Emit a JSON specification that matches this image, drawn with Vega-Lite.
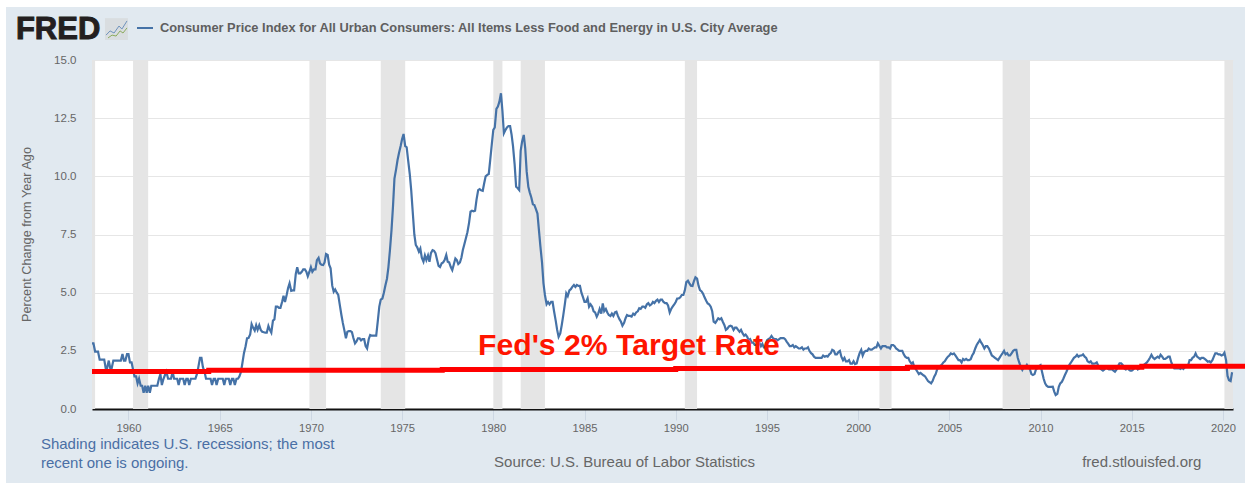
{"$schema":"https://vega.github.io/schema/vega-lite/v6.json","width":1141,"height":349,"autosize":{"type":"none"},"padding":{"left":92,"right":12,"top":60,"bottom":74},"background":"#e1e9f0","view":{"fill":"#ffffff","stroke":null},"config":{"font":"Liberation Sans"},
"encoding":{"x":{"field":"t","type":"quantitative","title":null,"scale":{"domain":[1958,2020.55],"nice":false,"zero":false},"axis":{"values":[1960,1965,1970,1975,1980,1985,1990,1995,2000,2005,2010,2015,2020],"format":"d","grid":false,"domainColor":"#111111","domainWidth":2,"tickColor":"#cdd7e3","tickSize":11,"tickWidth":1,"labelColor":"#666666","labelFont":"Liberation Sans","labelFontSize":11.2,"labelPadding":2,"labelFlush":false}},"y":{"field":"v","type":"quantitative","title":"Percent Change from Year Ago","scale":{"domain":[0,15],"nice":false},"axis":{"values":[0,2.5,5,7.5,10,12.5,15],"format":".1f","domain":false,"ticks":false,"gridColor":"#e6e6e6","gridWidth":1,"labelColor":"#666666","labelFont":"Liberation Sans","labelFontSize":11.5,"labelPadding":16,"titleColor":"#666666","titleFont":"Liberation Sans","titleFontSize":12.7,"titleFontWeight":"normal","titleX":-59,"titleY":174}}},
"layer":[
{"data":{"values":[{"t":1958,"t2":1958.17,"v":0,"v2":15},{"t":1960.25,"t2":1961.08,"v":0,"v2":15},{"t":1969.92,"t2":1970.83,"v":0,"v2":15},{"t":1973.83,"t2":1975.17,"v":0,"v2":15},{"t":1980,"t2":1980.5,"v":0,"v2":15},{"t":1981.5,"t2":1982.83,"v":0,"v2":15},{"t":1990.5,"t2":1991.17,"v":0,"v2":15},{"t":2001.17,"t2":2001.83,"v":0,"v2":15},{"t":2007.92,"t2":2009.42,"v":0,"v2":15},{"t":2020.08,"t2":2020.55,"v":0,"v2":15}]},"mark":{"type":"rect","color":"#e5e5e5"},"encoding":{"x2":{"field":"t2"},"y2":{"field":"v2"}}},
{"data":{"values":[
{"t":1958.00,"v":2.82},{"t":1958.08,"v":2.82},{"t":1958.17,"v":2.47},{"t":1958.25,"v":2.47},{"t":1958.33,"v":2.47},{"t":1958.42,"v":2.12},{"t":1958.50,"v":2.12},{"t":1958.58,"v":2.12},{"t":1958.67,"v":2.12},{"t":1958.75,"v":1.76},{"t":1958.83,"v":1.76},{"t":1958.92,"v":2.08},
{"t":1959.00,"v":1.76},{"t":1959.08,"v":1.76},{"t":1959.17,"v":2.08},{"t":1959.25,"v":2.08},{"t":1959.33,"v":2.08},{"t":1959.42,"v":2.08},{"t":1959.50,"v":2.08},{"t":1959.58,"v":2.08},{"t":1959.67,"v":2.36},{"t":1959.75,"v":2.08},{"t":1959.83,"v":2.08},{"t":1959.92,"v":2.36},
{"t":1960.00,"v":2.36},{"t":1960.08,"v":2.0},{"t":1960.17,"v":2.0},{"t":1960.25,"v":1.7},{"t":1960.33,"v":1.4},{"t":1960.42,"v":1.4},{"t":1960.50,"v":1.1},{"t":1960.58,"v":1.3},{"t":1960.67,"v":1.0},{"t":1960.75,"v":1.0},{"t":1960.83,"v":0.7},{"t":1960.92,"v":1.0},
{"t":1961.00,"v":0.7},{"t":1961.08,"v":1.0},{"t":1961.17,"v":0.7},{"t":1961.25,"v":1.0},{"t":1961.33,"v":1.0},{"t":1961.42,"v":1.0},{"t":1961.50,"v":1.0},{"t":1961.58,"v":1.0},{"t":1961.67,"v":1.3},{"t":1961.75,"v":1.5},{"t":1961.83,"v":1.03},{"t":1961.92,"v":1.3},
{"t":1962.00,"v":1.46},{"t":1962.08,"v":1.6},{"t":1962.17,"v":1.3},{"t":1962.25,"v":1.3},{"t":1962.33,"v":1.3},{"t":1962.42,"v":1.6},{"t":1962.50,"v":1.3},{"t":1962.58,"v":1.3},{"t":1962.67,"v":1.3},{"t":1962.75,"v":1.03},{"t":1962.83,"v":1.3},{"t":1962.92,"v":1.3},
{"t":1963.00,"v":1.3},{"t":1963.08,"v":1.03},{"t":1963.17,"v":1.3},{"t":1963.25,"v":1.3},{"t":1963.33,"v":1.03},{"t":1963.42,"v":1.3},{"t":1963.50,"v":1.3},{"t":1963.58,"v":1.3},{"t":1963.67,"v":1.3},{"t":1963.75,"v":1.5},{"t":1963.83,"v":1.8},{"t":1963.92,"v":2.2},
{"t":1964.00,"v":2.2},{"t":1964.08,"v":1.8},{"t":1964.17,"v":1.6},{"t":1964.25,"v":1.3},{"t":1964.33,"v":1.3},{"t":1964.42,"v":1.3},{"t":1964.50,"v":1.3},{"t":1964.58,"v":1.03},{"t":1964.67,"v":1.3},{"t":1964.75,"v":1.3},{"t":1964.83,"v":1.03},{"t":1964.92,"v":1.3},
{"t":1965.00,"v":1.3},{"t":1965.08,"v":1.3},{"t":1965.17,"v":1.3},{"t":1965.25,"v":1.03},{"t":1965.33,"v":1.3},{"t":1965.42,"v":1.3},{"t":1965.50,"v":1.3},{"t":1965.58,"v":1.03},{"t":1965.67,"v":1.3},{"t":1965.75,"v":1.3},{"t":1965.83,"v":1.03},{"t":1965.92,"v":1.3},
{"t":1966.00,"v":1.3},{"t":1966.08,"v":1.4},{"t":1966.17,"v":1.6},{"t":1966.25,"v":2.0},{"t":1966.33,"v":2.4},{"t":1966.42,"v":2.7},{"t":1966.50,"v":3.04},{"t":1966.58,"v":3.05},{"t":1966.67,"v":3.2},{"t":1966.75,"v":3.65},{"t":1966.83,"v":3.5},{"t":1966.92,"v":3.37},
{"t":1967.00,"v":3.6},{"t":1967.08,"v":3.4},{"t":1967.17,"v":3.6},{"t":1967.25,"v":3.4},{"t":1967.33,"v":3.32},{"t":1967.42,"v":3.3},{"t":1967.50,"v":3.28},{"t":1967.58,"v":3.28},{"t":1967.67,"v":3.57},{"t":1967.75,"v":3.4},{"t":1967.83,"v":3.28},{"t":1967.92,"v":3.8},
{"t":1968.00,"v":3.85},{"t":1968.08,"v":4.4},{"t":1968.17,"v":4.4},{"t":1968.25,"v":4.35},{"t":1968.33,"v":4.35},{"t":1968.42,"v":4.6},{"t":1968.50,"v":4.87},{"t":1968.58,"v":4.6},{"t":1968.67,"v":4.9},{"t":1968.75,"v":5.2},{"t":1968.83,"v":5.4},{"t":1968.92,"v":5.08},
{"t":1969.00,"v":5.1},{"t":1969.08,"v":5.1},{"t":1969.17,"v":5.8},{"t":1969.25,"v":6.09},{"t":1969.33,"v":5.83},{"t":1969.42,"v":5.83},{"t":1969.50,"v":5.9},{"t":1969.58,"v":6.0},{"t":1969.67,"v":6.0},{"t":1969.75,"v":5.9},{"t":1969.83,"v":5.7},{"t":1969.92,"v":5.9},
{"t":1970.00,"v":6.1},{"t":1970.08,"v":5.9},{"t":1970.17,"v":6.0},{"t":1970.25,"v":6.0},{"t":1970.33,"v":6.4},{"t":1970.42,"v":6.5},{"t":1970.50,"v":6.26},{"t":1970.58,"v":6.2},{"t":1970.67,"v":6.19},{"t":1970.75,"v":6.3},{"t":1970.83,"v":6.66},{"t":1970.92,"v":6.62},
{"t":1971.00,"v":6.2},{"t":1971.08,"v":6.05},{"t":1971.17,"v":5.3},{"t":1971.25,"v":5.04},{"t":1971.33,"v":5.14},{"t":1971.42,"v":5.0},{"t":1971.50,"v":4.9},{"t":1971.58,"v":4.5},{"t":1971.67,"v":4.05},{"t":1971.75,"v":3.7},{"t":1971.83,"v":3.4},{"t":1971.92,"v":3.04},
{"t":1972.00,"v":3.32},{"t":1972.08,"v":3.35},{"t":1972.17,"v":3.35},{"t":1972.25,"v":3.3},{"t":1972.33,"v":3.05},{"t":1972.42,"v":2.82},{"t":1972.50,"v":2.9},{"t":1972.58,"v":3.04},{"t":1972.67,"v":3.04},{"t":1972.75,"v":2.95},{"t":1972.83,"v":3.0},{"t":1972.92,"v":3.0},
{"t":1973.00,"v":2.7},{"t":1973.08,"v":2.6},{"t":1973.17,"v":3.0},{"t":1973.25,"v":3.18},{"t":1973.33,"v":3.15},{"t":1973.42,"v":3.15},{"t":1973.50,"v":3.15},{"t":1973.58,"v":3.15},{"t":1973.67,"v":3.8},{"t":1973.75,"v":4.4},{"t":1973.83,"v":4.7},{"t":1973.92,"v":4.75},
{"t":1974.00,"v":5.0},{"t":1974.08,"v":5.3},{"t":1974.17,"v":5.6},{"t":1974.25,"v":6.1},{"t":1974.33,"v":6.8},{"t":1974.42,"v":7.7},{"t":1974.50,"v":8.7},{"t":1974.58,"v":9.9},{"t":1974.67,"v":10.3},{"t":1974.75,"v":10.7},{"t":1974.83,"v":11.0},{"t":1974.92,"v":11.3},
{"t":1975.00,"v":11.6},{"t":1975.08,"v":11.82},{"t":1975.17,"v":11.3},{"t":1975.25,"v":11.25},{"t":1975.33,"v":10.7},{"t":1975.42,"v":10.1},{"t":1975.50,"v":9.4},{"t":1975.58,"v":8.5},{"t":1975.67,"v":7.5},{"t":1975.75,"v":7.05},{"t":1975.83,"v":6.95},{"t":1975.92,"v":6.76},
{"t":1976.00,"v":6.9},{"t":1976.08,"v":6.5},{"t":1976.17,"v":6.33},{"t":1976.25,"v":6.6},{"t":1976.33,"v":6.4},{"t":1976.42,"v":6.6},{"t":1976.50,"v":6.33},{"t":1976.58,"v":6.7},{"t":1976.67,"v":6.83},{"t":1976.75,"v":6.8},{"t":1976.83,"v":6.7},{"t":1976.92,"v":6.4},
{"t":1977.00,"v":6.15},{"t":1977.08,"v":6.1},{"t":1977.17,"v":6.26},{"t":1977.25,"v":6.3},{"t":1977.33,"v":6.4},{"t":1977.42,"v":6.62},{"t":1977.50,"v":6.33},{"t":1977.58,"v":6.3},{"t":1977.67,"v":6.1},{"t":1977.75,"v":5.97},{"t":1977.83,"v":6.2},{"t":1977.92,"v":6.47},
{"t":1978.00,"v":6.4},{"t":1978.08,"v":6.23},{"t":1978.17,"v":6.3},{"t":1978.25,"v":6.5},{"t":1978.33,"v":6.83},{"t":1978.42,"v":7.1},{"t":1978.50,"v":7.35},{"t":1978.58,"v":7.6},{"t":1978.67,"v":8.0},{"t":1978.75,"v":8.48},{"t":1978.83,"v":8.52},{"t":1978.92,"v":8.5},
{"t":1979.00,"v":8.52},{"t":1979.08,"v":9.0},{"t":1979.17,"v":9.41},{"t":1979.25,"v":9.45},{"t":1979.33,"v":9.4},{"t":1979.42,"v":9.38},{"t":1979.50,"v":9.7},{"t":1979.58,"v":10.0},{"t":1979.67,"v":10.06},{"t":1979.75,"v":10.1},{"t":1979.83,"v":10.7},{"t":1979.92,"v":11.4},
{"t":1980.00,"v":12.0},{"t":1980.08,"v":12.1},{"t":1980.17,"v":12.9},{"t":1980.25,"v":13.0},{"t":1980.33,"v":13.2},{"t":1980.42,"v":13.57},{"t":1980.50,"v":12.8},{"t":1980.58,"v":11.85},{"t":1980.67,"v":12.0},{"t":1980.75,"v":12.1},{"t":1980.83,"v":12.16},{"t":1980.92,"v":12.16},
{"t":1981.00,"v":11.8},{"t":1981.08,"v":11.3},{"t":1981.17,"v":10.5},{"t":1981.25,"v":9.55},{"t":1981.33,"v":9.5},{"t":1981.42,"v":9.41},{"t":1981.50,"v":11.1},{"t":1981.58,"v":11.5},{"t":1981.67,"v":11.78},{"t":1981.75,"v":11.2},{"t":1981.83,"v":10.2},{"t":1981.92,"v":9.55},
{"t":1982.00,"v":9.3},{"t":1982.08,"v":9.1},{"t":1982.17,"v":8.8},{"t":1982.25,"v":8.77},{"t":1982.33,"v":8.6},{"t":1982.42,"v":8.4},{"t":1982.50,"v":7.7},{"t":1982.58,"v":7.0},{"t":1982.67,"v":6.3},{"t":1982.75,"v":5.4},{"t":1982.83,"v":4.9},{"t":1982.92,"v":4.5},
{"t":1983.00,"v":4.6},{"t":1983.08,"v":4.5},{"t":1983.17,"v":4.6},{"t":1983.25,"v":4.6},{"t":1983.33,"v":4.2},{"t":1983.42,"v":3.8},{"t":1983.50,"v":3.4},{"t":1983.58,"v":3.1},{"t":1983.67,"v":3.25},{"t":1983.75,"v":3.6},{"t":1983.83,"v":4.0},{"t":1983.92,"v":4.5},
{"t":1984.00,"v":4.97},{"t":1984.08,"v":4.85},{"t":1984.17,"v":5.1},{"t":1984.25,"v":5.15},{"t":1984.33,"v":5.25},{"t":1984.42,"v":5.33},{"t":1984.50,"v":5.25},{"t":1984.58,"v":5.33},{"t":1984.67,"v":5.29},{"t":1984.75,"v":5.29},{"t":1984.83,"v":5.0},{"t":1984.92,"v":4.8},
{"t":1985.00,"v":4.6},{"t":1985.08,"v":4.6},{"t":1985.17,"v":4.76},{"t":1985.25,"v":4.4},{"t":1985.33,"v":4.5},{"t":1985.42,"v":4.4},{"t":1985.50,"v":4.2},{"t":1985.58,"v":4.15},{"t":1985.67,"v":3.97},{"t":1985.75,"v":4.1},{"t":1985.83,"v":4.3},{"t":1985.92,"v":4.1},
{"t":1986.00,"v":4.54},{"t":1986.08,"v":4.2},{"t":1986.17,"v":4.3},{"t":1986.25,"v":4.15},{"t":1986.33,"v":4.04},{"t":1986.42,"v":4.0},{"t":1986.50,"v":4.1},{"t":1986.58,"v":4.0},{"t":1986.67,"v":4.15},{"t":1986.75,"v":4.18},{"t":1986.83,"v":4.0},{"t":1986.92,"v":3.85},
{"t":1987.00,"v":3.75},{"t":1987.08,"v":3.58},{"t":1987.17,"v":3.7},{"t":1987.25,"v":3.9},{"t":1987.33,"v":4.04},{"t":1987.42,"v":4.0},{"t":1987.50,"v":4.0},{"t":1987.58,"v":3.97},{"t":1987.67,"v":4.1},{"t":1987.75,"v":4.05},{"t":1987.83,"v":4.15},{"t":1987.92,"v":4.2},
{"t":1988.00,"v":4.33},{"t":1988.08,"v":4.3},{"t":1988.17,"v":4.4},{"t":1988.25,"v":4.4},{"t":1988.33,"v":4.35},{"t":1988.42,"v":4.5},{"t":1988.50,"v":4.55},{"t":1988.58,"v":4.45},{"t":1988.67,"v":4.5},{"t":1988.75,"v":4.6},{"t":1988.83,"v":4.55},{"t":1988.92,"v":4.65},
{"t":1989.00,"v":4.7},{"t":1989.08,"v":4.6},{"t":1989.17,"v":4.7},{"t":1989.25,"v":4.7},{"t":1989.33,"v":4.6},{"t":1989.42,"v":4.55},{"t":1989.50,"v":4.55},{"t":1989.58,"v":4.45},{"t":1989.67,"v":4.15},{"t":1989.75,"v":4.3},{"t":1989.83,"v":4.4},{"t":1989.92,"v":4.5},
{"t":1990.00,"v":4.6},{"t":1990.08,"v":4.75},{"t":1990.17,"v":4.75},{"t":1990.25,"v":4.8},{"t":1990.33,"v":4.9},{"t":1990.42,"v":4.9},{"t":1990.50,"v":5.1},{"t":1990.58,"v":5.45},{"t":1990.67,"v":5.51},{"t":1990.75,"v":5.4},{"t":1990.83,"v":5.3},{"t":1990.92,"v":5.29},
{"t":1991.00,"v":5.5},{"t":1991.08,"v":5.66},{"t":1991.17,"v":5.6},{"t":1991.25,"v":5.3},{"t":1991.33,"v":5.11},{"t":1991.42,"v":5.05},{"t":1991.50,"v":4.95},{"t":1991.58,"v":4.8},{"t":1991.67,"v":4.65},{"t":1991.75,"v":4.54},{"t":1991.83,"v":4.5},{"t":1991.92,"v":4.4},
{"t":1992.00,"v":4.2},{"t":1992.08,"v":3.75},{"t":1992.17,"v":3.7},{"t":1992.25,"v":3.8},{"t":1992.33,"v":3.9},{"t":1992.42,"v":3.85},{"t":1992.50,"v":3.9},{"t":1992.58,"v":3.75},{"t":1992.67,"v":3.6},{"t":1992.75,"v":3.4},{"t":1992.83,"v":3.45},{"t":1992.92,"v":3.55},
{"t":1993.00,"v":3.58},{"t":1993.08,"v":3.55},{"t":1993.17,"v":3.4},{"t":1993.25,"v":3.5},{"t":1993.33,"v":3.5},{"t":1993.42,"v":3.4},{"t":1993.50,"v":3.32},{"t":1993.58,"v":3.4},{"t":1993.67,"v":3.25},{"t":1993.75,"v":3.15},{"t":1993.83,"v":3.2},{"t":1993.92,"v":3.1},
{"t":1994.00,"v":2.95},{"t":1994.08,"v":3.0},{"t":1994.17,"v":2.85},{"t":1994.25,"v":2.85},{"t":1994.33,"v":2.75},{"t":1994.42,"v":2.75},{"t":1994.50,"v":2.85},{"t":1994.58,"v":2.85},{"t":1994.67,"v":2.7},{"t":1994.75,"v":2.8},{"t":1994.83,"v":2.65},{"t":1994.92,"v":2.65},
{"t":1995.00,"v":2.95},{"t":1995.08,"v":3.0},{"t":1995.17,"v":3.05},{"t":1995.25,"v":3.14},{"t":1995.33,"v":3.05},{"t":1995.42,"v":3.0},{"t":1995.50,"v":3.0},{"t":1995.58,"v":2.95},{"t":1995.67,"v":3.0},{"t":1995.75,"v":3.05},{"t":1995.83,"v":3.05},{"t":1995.92,"v":3.05},
{"t":1996.00,"v":3.0},{"t":1996.08,"v":2.9},{"t":1996.17,"v":2.8},{"t":1996.25,"v":2.7},{"t":1996.33,"v":2.7},{"t":1996.42,"v":2.75},{"t":1996.50,"v":2.65},{"t":1996.58,"v":2.7},{"t":1996.67,"v":2.65},{"t":1996.75,"v":2.6},{"t":1996.83,"v":2.6},{"t":1996.92,"v":2.65},
{"t":1997.00,"v":2.55},{"t":1997.08,"v":2.6},{"t":1997.17,"v":2.6},{"t":1997.25,"v":2.65},{"t":1997.33,"v":2.5},{"t":1997.42,"v":2.4},{"t":1997.50,"v":2.35},{"t":1997.58,"v":2.25},{"t":1997.67,"v":2.2},{"t":1997.75,"v":2.2},{"t":1997.83,"v":2.2},{"t":1997.92,"v":2.2},
{"t":1998.00,"v":2.2},{"t":1998.08,"v":2.3},{"t":1998.17,"v":2.25},{"t":1998.25,"v":2.28},{"t":1998.33,"v":2.25},{"t":1998.42,"v":2.35},{"t":1998.50,"v":2.4},{"t":1998.58,"v":2.54},{"t":1998.67,"v":2.5},{"t":1998.75,"v":2.35},{"t":1998.83,"v":2.35},{"t":1998.92,"v":2.45},
{"t":1999.00,"v":2.5},{"t":1999.08,"v":2.25},{"t":1999.17,"v":2.1},{"t":1999.25,"v":2.2},{"t":1999.33,"v":2.05},{"t":1999.42,"v":2.05},{"t":1999.50,"v":2.1},{"t":1999.58,"v":1.95},{"t":1999.67,"v":1.95},{"t":1999.75,"v":2.05},{"t":1999.83,"v":1.93},{"t":1999.92,"v":1.96},
{"t":2000.00,"v":2.2},{"t":2000.08,"v":2.4},{"t":2000.17,"v":2.54},{"t":2000.25,"v":2.3},{"t":2000.33,"v":2.45},{"t":2000.42,"v":2.5},{"t":2000.50,"v":2.5},{"t":2000.58,"v":2.6},{"t":2000.67,"v":2.55},{"t":2000.75,"v":2.55},{"t":2000.83,"v":2.6},{"t":2000.92,"v":2.65},
{"t":2001.00,"v":2.65},{"t":2001.08,"v":2.82},{"t":2001.17,"v":2.7},{"t":2001.25,"v":2.6},{"t":2001.33,"v":2.7},{"t":2001.42,"v":2.7},{"t":2001.50,"v":2.7},{"t":2001.58,"v":2.65},{"t":2001.67,"v":2.65},{"t":2001.75,"v":2.6},{"t":2001.83,"v":2.75},{"t":2001.92,"v":2.75},
{"t":2002.00,"v":2.7},{"t":2002.08,"v":2.6},{"t":2002.17,"v":2.55},{"t":2002.25,"v":2.5},{"t":2002.33,"v":2.5},{"t":2002.42,"v":2.5},{"t":2002.50,"v":2.35},{"t":2002.58,"v":2.25},{"t":2002.67,"v":2.2},{"t":2002.75,"v":2.2},{"t":2002.83,"v":2.05},{"t":2002.92,"v":1.95},
{"t":2003.00,"v":2.0},{"t":2003.08,"v":1.8},{"t":2003.17,"v":1.7},{"t":2003.25,"v":1.6},{"t":2003.33,"v":1.5},{"t":2003.42,"v":1.55},{"t":2003.50,"v":1.5},{"t":2003.58,"v":1.45},{"t":2003.67,"v":1.4},{"t":2003.75,"v":1.3},{"t":2003.83,"v":1.2},{"t":2003.92,"v":1.15},
{"t":2004.00,"v":1.1},{"t":2004.08,"v":1.2},{"t":2004.17,"v":1.39},{"t":2004.25,"v":1.5},{"t":2004.33,"v":1.7},{"t":2004.42,"v":1.8},{"t":2004.50,"v":1.85},{"t":2004.58,"v":1.9},{"t":2004.67,"v":2.0},{"t":2004.75,"v":2.05},{"t":2004.83,"v":2.15},{"t":2004.92,"v":2.25},
{"t":2005.00,"v":2.3},{"t":2005.08,"v":2.39},{"t":2005.17,"v":2.35},{"t":2005.25,"v":2.39},{"t":2005.33,"v":2.3},{"t":2005.42,"v":2.2},{"t":2005.50,"v":2.1},{"t":2005.58,"v":2.1},{"t":2005.67,"v":2.0},{"t":2005.75,"v":2.15},{"t":2005.83,"v":2.1},{"t":2005.92,"v":2.15},
{"t":2006.00,"v":2.1},{"t":2006.08,"v":2.1},{"t":2006.17,"v":2.14},{"t":2006.25,"v":2.3},{"t":2006.33,"v":2.4},{"t":2006.42,"v":2.6},{"t":2006.50,"v":2.75},{"t":2006.58,"v":2.85},{"t":2006.67,"v":2.97},{"t":2006.75,"v":2.85},{"t":2006.83,"v":2.75},{"t":2006.92,"v":2.6},
{"t":2007.00,"v":2.7},{"t":2007.08,"v":2.7},{"t":2007.17,"v":2.6},{"t":2007.25,"v":2.45},{"t":2007.33,"v":2.3},{"t":2007.42,"v":2.25},{"t":2007.50,"v":2.2},{"t":2007.58,"v":2.15},{"t":2007.67,"v":2.1},{"t":2007.75,"v":2.2},{"t":2007.83,"v":2.3},{"t":2007.92,"v":2.4},
{"t":2008.00,"v":2.5},{"t":2008.08,"v":2.35},{"t":2008.17,"v":2.4},{"t":2008.25,"v":2.3},{"t":2008.33,"v":2.3},{"t":2008.42,"v":2.4},{"t":2008.50,"v":2.5},{"t":2008.58,"v":2.54},{"t":2008.67,"v":2.54},{"t":2008.75,"v":2.2},{"t":2008.83,"v":2.0},{"t":2008.92,"v":1.8},
{"t":2009.00,"v":1.68},{"t":2009.08,"v":1.8},{"t":2009.17,"v":1.8},{"t":2009.25,"v":1.9},{"t":2009.33,"v":1.8},{"t":2009.42,"v":1.7},{"t":2009.50,"v":1.5},{"t":2009.58,"v":1.46},{"t":2009.67,"v":1.5},{"t":2009.75,"v":1.7},{"t":2009.83,"v":1.75},{"t":2009.92,"v":1.85},
{"t":2010.00,"v":1.89},{"t":2010.08,"v":1.6},{"t":2010.17,"v":1.3},{"t":2010.25,"v":1.1},{"t":2010.33,"v":1.0},{"t":2010.42,"v":0.95},{"t":2010.50,"v":0.95},{"t":2010.58,"v":0.95},{"t":2010.67,"v":0.96},{"t":2010.75,"v":0.75},{"t":2010.83,"v":0.6},{"t":2010.92,"v":0.65},
{"t":2011.00,"v":0.95},{"t":2011.08,"v":1.1},{"t":2011.17,"v":1.17},{"t":2011.25,"v":1.3},{"t":2011.33,"v":1.45},{"t":2011.42,"v":1.6},{"t":2011.50,"v":1.75},{"t":2011.58,"v":1.9},{"t":2011.67,"v":2.0},{"t":2011.75,"v":2.1},{"t":2011.83,"v":2.2},{"t":2011.92,"v":2.25},
{"t":2012.00,"v":2.33},{"t":2012.08,"v":2.25},{"t":2012.17,"v":2.3},{"t":2012.25,"v":2.3},{"t":2012.33,"v":2.35},{"t":2012.42,"v":2.25},{"t":2012.50,"v":2.2},{"t":2012.58,"v":2.05},{"t":2012.67,"v":2.0},{"t":2012.75,"v":2.05},{"t":2012.83,"v":1.95},{"t":2012.92,"v":1.95},
{"t":2013.00,"v":1.96},{"t":2013.08,"v":2.0},{"t":2013.17,"v":1.85},{"t":2013.25,"v":1.75},{"t":2013.33,"v":1.7},{"t":2013.42,"v":1.65},{"t":2013.50,"v":1.7},{"t":2013.58,"v":1.8},{"t":2013.67,"v":1.75},{"t":2013.75,"v":1.7},{"t":2013.83,"v":1.7},{"t":2013.92,"v":1.7},
{"t":2014.00,"v":1.65},{"t":2014.08,"v":1.6},{"t":2014.17,"v":1.7},{"t":2014.25,"v":1.85},{"t":2014.33,"v":1.96},{"t":2014.42,"v":1.96},{"t":2014.50,"v":1.9},{"t":2014.58,"v":1.75},{"t":2014.67,"v":1.7},{"t":2014.75,"v":1.8},{"t":2014.83,"v":1.7},{"t":2014.92,"v":1.65},
{"t":2015.00,"v":1.65},{"t":2015.08,"v":1.7},{"t":2015.17,"v":1.8},{"t":2015.25,"v":1.8},{"t":2015.33,"v":1.7},{"t":2015.42,"v":1.75},{"t":2015.50,"v":1.8},{"t":2015.58,"v":1.8},{"t":2015.67,"v":1.9},{"t":2015.75,"v":1.95},{"t":2015.83,"v":2.0},{"t":2015.92,"v":2.1},
{"t":2016.00,"v":2.2},{"t":2016.08,"v":2.33},{"t":2016.17,"v":2.2},{"t":2016.25,"v":2.15},{"t":2016.33,"v":2.2},{"t":2016.42,"v":2.25},{"t":2016.50,"v":2.2},{"t":2016.58,"v":2.33},{"t":2016.67,"v":2.25},{"t":2016.75,"v":2.15},{"t":2016.83,"v":2.15},{"t":2016.92,"v":2.2},
{"t":2017.00,"v":2.25},{"t":2017.08,"v":2.25},{"t":2017.17,"v":2.0},{"t":2017.25,"v":1.85},{"t":2017.33,"v":1.75},{"t":2017.42,"v":1.75},{"t":2017.50,"v":1.75},{"t":2017.58,"v":1.75},{"t":2017.67,"v":1.72},{"t":2017.75,"v":1.78},{"t":2017.83,"v":1.72},{"t":2017.92,"v":1.8},
{"t":2018.00,"v":1.85},{"t":2018.08,"v":1.85},{"t":2018.17,"v":2.1},{"t":2018.25,"v":2.1},{"t":2018.33,"v":2.2},{"t":2018.42,"v":2.25},{"t":2018.50,"v":2.39},{"t":2018.58,"v":2.25},{"t":2018.67,"v":2.2},{"t":2018.75,"v":2.15},{"t":2018.83,"v":2.2},{"t":2018.92,"v":2.2},
{"t":2019.00,"v":2.15},{"t":2019.08,"v":2.1},{"t":2019.17,"v":2.03},{"t":2019.25,"v":2.05},{"t":2019.33,"v":2.0},{"t":2019.42,"v":2.1},{"t":2019.50,"v":2.25},{"t":2019.58,"v":2.39},{"t":2019.67,"v":2.39},{"t":2019.75,"v":2.35},{"t":2019.83,"v":2.35},{"t":2019.92,"v":2.3},
{"t":2020.00,"v":2.33},{"t":2020.08,"v":2.42},{"t":2020.17,"v":2.1},{"t":2020.25,"v":1.42},{"t":2020.33,"v":1.24},{"t":2020.42,"v":1.2},{"t":2020.50,"v":1.58}
]},"mark":{"type":"line","strokeWidth":2.2,"interpolate":"linear"},"encoding":{"color":{"datum":"Consumer Price Index for All Urban Consumers: All Items Less Food and Energy in U.S. City Average","scale":{"range":["#4572a7"]},"legend":{"title":null,"orient":"none","legendX":44,"legendY":-41,"symbolType":"stroke","symbolSize":256,"symbolStrokeWidth":2,"labelFont":"Liberation Sans","labelFontSize":12.85,"labelFontWeight":"bold","labelColor":"#5f5f5f","labelLimit":900,"labelOffset":6}}}},
{"data":{"values":[{"t":1958,"v":1.61},{"t":1964.4,"v":1.67},{"t":1977.2,"v":1.7},{"t":1990,"v":1.745},{"t":2002.7,"v":1.79},{"t":2015.55,"v":1.84},{"t":2021.5,"v":1.84}]},"mark":{"type":"line","interpolate":"step-after","color":"#ff0000","strokeWidth":5}},
{"data":{"values":[{"t":1952,"t2":2022,"v":17.278,"v2":18},{"t":1952,"t2":1953.285,"v":-4,"v2":18}]},"mark":{"type":"rect","color":"#ffffff"},"encoding":{"x2":{"field":"t2"},"y2":{"field":"v2"}}},
{"data":{"values":[{"t":1958.71,"t2":1959.97,"v":15.86,"v2":16.8}]},"mark":{"type":"rect","color":"#d9dde0"},"encoding":{"x2":{"field":"t2"},"y2":{"field":"v2"}}},
{"data":{"values":[{"t":1958.77,"v":16.07},{"t":1958.99,"v":16.25},{"t":1959.21,"v":16.16},{"t":1959.48,"v":16.46},{"t":1959.64,"v":16.33},{"t":1959.92,"v":16.68}]},"mark":{"type":"line","color":"#6f93bd","strokeWidth":1}},
{"data":{"values":[{"t":1958.88,"v":15.95},{"t":1959.1,"v":16.07},{"t":1959.32,"v":16.03},{"t":1959.54,"v":16.25},{"t":1959.7,"v":16.16},{"t":1959.92,"v":16.38}]},"mark":{"type":"line","color":"#8cab5e","strokeWidth":1}},
{"data":{"values":[{"t":1953.83,"v":16.29,"label":"FRED"}]},"mark":{"type":"text","align":"left","baseline":"middle","font":"Liberation Sans","fontSize":31,"fontWeight":"bold","color":"#231f20","stroke":"#231f20","strokeWidth":1},"encoding":{"text":{"field":"label"}}},
{"data":{"values":[{"t":1955.2,"v":-1.504,"label":"Shading indicates U.S. recessions; the most"},{"t":1955.2,"v":-2.31,"label":"recent one is ongoing."}]},"mark":{"type":"text","align":"left","baseline":"middle","font":"Liberation Sans","fontSize":15,"color":"#4a6fa5"},"encoding":{"text":{"field":"label"}}},
{"data":{"values":[{"t":1980.04,"v":-2.28,"label":"Source: U.S. Bureau of Labor Statistics"},{"t":2012.28,"v":-2.28,"label":"fred.stlouisfed.org"}]},"mark":{"type":"text","align":"left","baseline":"middle","font":"Liberation Sans","fontSize":15,"color":"#666666"},"encoding":{"text":{"field":"label"}}},
{"data":{"values":[{"t":1979.16,"v":2.71,"label":"Fed's 2% Target Rate"}]},"mark":{"type":"text","align":"left","baseline":"middle","font":"Liberation Sans","fontSize":30.2,"fontWeight":"bold","color":"#ff1500"},"encoding":{"text":{"field":"label"}}}
]}
